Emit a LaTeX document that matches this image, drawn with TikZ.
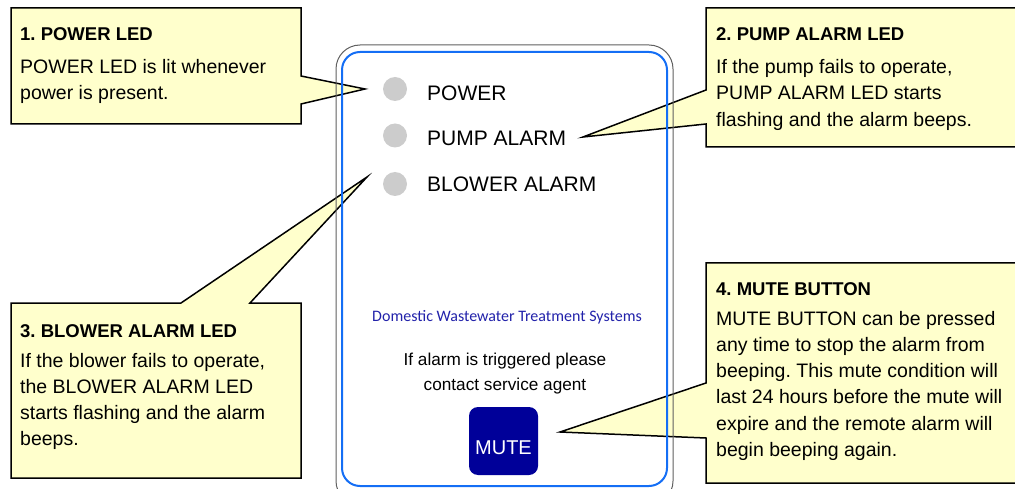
\documentclass[tikz,border=0pt]{standalone}
\usepackage{fontspec}
\setmainfont{Liberation Sans}
\newfontfamily\calib{Carlito}
\frenchspacing
\definecolor{callfill}{RGB}{255,255,204}
\definecolor{ledgray}{RGB}{204,204,204}
\definecolor{panelblue}{RGB}{20,110,245}
\definecolor{domblue}{RGB}{34,34,170}
\definecolor{mutefill}{RGB}{0,0,153}
\tikzset{
  callout/.style={fill=callfill, draw=black, line width=1.5pt, line join=miter},
  ctitle/.style={anchor=base west, inner sep=0pt, font=\fontsize{18.5}{20}\selectfont\bfseries},
  cbody/.style={anchor=base west, inner sep=0pt, align=left, font=\fontsize{19.5}{26.3}\selectfont},
  led/.style={circle, fill=ledgray, minimum size=24pt, inner sep=0pt},
  ledlabel/.style={anchor=base west, inner sep=0pt, font=\fontsize{21}{24}\selectfont},
  paneltext/.style={anchor=base, inner sep=0pt, align=center, font=\fontsize{17.2}{25.5}\selectfont}
}
\begin{document}
\frenchspacing
\begin{tikzpicture}[x=1pt,y=-1pt]
\useasboundingbox (0,0) rectangle (1015,489);
\clip (0,0) rectangle (1015,489);
% tips
\coordinate (t1) at (365,89);
\coordinate (t2) at (583,137);
\coordinate (t3) at (367,177);
\coordinate (t4) at (560,432);
% callouts
\draw[callout] (11,8) -- (301,8) -- (301,76) -- (t1) -- (301,104) -- (301,124) -- (11,124) -- cycle;
\draw[callout] (706,8) -- (1022,8) -- (1022,147) -- (706,147) -- (706,124) -- (t2) -- (706,90) -- cycle;
\draw[callout] (11,303) -- (181,303) -- (t3) -- (250,303) -- (301,303) -- (301,478) -- (11,478) -- cycle;
\draw[callout] (706,263) -- (1022,263) -- (1022,483) -- (706,483) -- (706,438) -- (t4) -- (706,383) -- cycle;
% callout texts
\node[ctitle] (h1) at (20,41) {1. POWER LED};
\node[ctitle] (h2) at (716,41) {2. PUMP ALARM LED};
\node[ctitle] (h3) at (20,337) {3. BLOWER ALARM LED};
\node[ctitle] (h4) at (716,295) {4. MUTE BUTTON};
\foreach \txt [count=\i] in {POWER LED is lit whenever, power is present.}
  \node[cbody] (b1l\i) at (20,{73.4+26.5*(\i-1)}) {\txt};
\foreach \txt [count=\i] in {{If the pump fails to operate,}, PUMP ALARM LED starts, flashing and the alarm beeps.}
  \node[cbody] (b2l\i) at (716,{73.5+26.3*(\i-1)}) {\txt};
\foreach \txt [count=\i] in {{If the blower fails to operate,}, the BLOWER ALARM LED, starts flashing and the alarm, beeps.}
  \node[cbody] (b3l\i) at (20,{367+26.3*(\i-1)}) {\txt};
\foreach \txt [count=\i] in {MUTE BUTTON can be pressed, any time to stop the alarm from, beeping. This mute condition will, last 24 hours before the mute will, expire and the remote alarm will, begin beeping again.}
  \node[cbody] (b4l\i) at (716,{325+26.3*(\i-1)}) {\txt};
% panel
\draw[gray!75!black, line width=1pt, rounded corners=24pt] (336,45) rectangle (673,505);
\draw[panelblue, line width=2pt, rounded corners=18pt] (342,52) rectangle (667,486);
% LEDs
\node[led] (l1) at (395,89) {};
\node[led] (l2) at (395,135.5) {};
\node[led] (l3) at (395,184) {};
\node[ledlabel] (p1) at (427,101) {POWER};
\node[ledlabel] (p2) at (427,146) {PUMP ALARM};
\node[ledlabel] (p3) at (427,191.7) {BLOWER ALARM};
% panel texts
\node[anchor=base, inner sep=0pt, text=domblue, font=\calib\fontsize{16}{19}\selectfont] (dom) at (507,321.7) {Domestic Wastewater Treatment Systems};
\node[paneltext] (al1) at (505,365) {If alarm is triggered please};
\node[paneltext] (al2) at (505,390.7) {contact service agent};
% mute button
\fill[mutefill, rounded corners=9pt] (469,407) rectangle (538,475);
\node[anchor=base, inner sep=0pt, text=white, font=\fontsize{20}{24}\selectfont] (mute) at (503.5,454) {MUTE};
\end{tikzpicture}
\end{document}
